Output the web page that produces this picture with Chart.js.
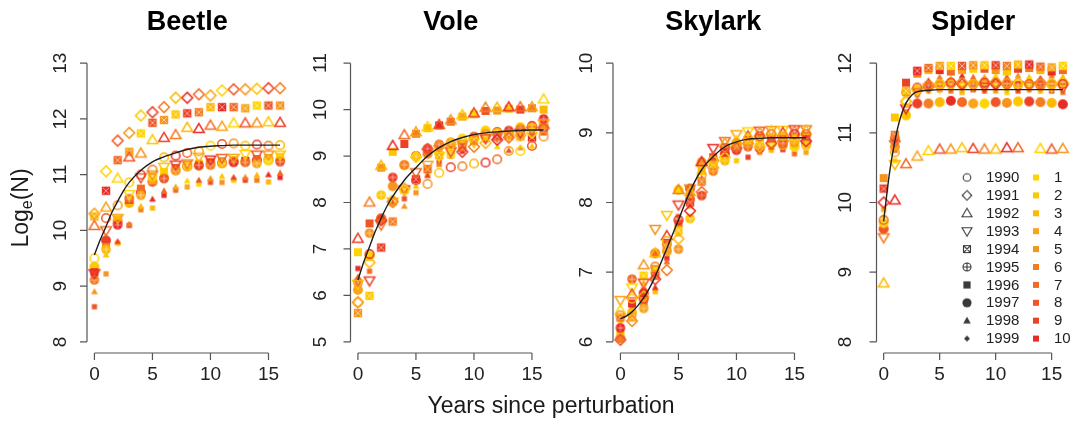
<!DOCTYPE html>
<html><head><meta charset="utf-8">
<script src="https://cdn.jsdelivr.net/npm/chart.js@4.4.1/dist/chart.umd.min.js"></script>
<style>
html,body{margin:0;padding:0;background:#fff;width:1076px;height:425px;overflow:hidden}
#wrap{position:relative;width:1076px;height:425px}
#wrap canvas{position:absolute;left:0;top:0}
</style></head><body><div id="wrap"></div>
<script>
// ---------- DATA ----------
const steps = [0,1,2,3,4,5,6,7,8,9,10,11,12,13,14,15,16];
const yearLabels = ['1990','1991','1992','1993','1994','1995','1996','1997','1998','1999'];
const colourLabels = ['1','2','3','4','5','6','7','8','9','10'];
const panelTitles = ['Beetle','Vole','Skylark','Spider'];
const xTicks = [0,5,10,15];
const beetleTicks = [8,9,10,11,12,13];
const voleTicks = [5,6,7,8,9,10,11];
const skylarkTicks = [6,7,8,9,10];
const spiderTicks = [8,9,10,11,12];

const beetleSeries = [
 [9.50,10.22,10.45,10.86,11.00,11.09,11.31,11.34,11.39,11.42,11.52,11.55,11.56,11.52,11.54,11.52,11.53],
 [10.30,11.06,11.61,11.75,12.06,12.12,12.21,12.38,12.38,12.44,12.42,12.51,12.53,12.53,12.54,12.55,12.55],
 [10.08,10.41,10.93,11.31,11.38,11.62,11.66,11.71,11.84,11.82,11.88,11.86,11.92,11.92,11.92,11.94,11.93],
 [9.23,10.00,10.22,10.65,10.95,11.00,11.14,11.18,11.20,11.32,11.27,11.30,11.30,11.37,11.36,11.36,11.36],
 [10.25,10.71,11.26,11.41,11.74,11.93,11.98,12.08,12.10,12.12,12.21,12.21,12.21,12.19,12.24,12.24,12.24],
 [9.11,9.66,10.10,10.57,10.63,10.96,10.93,11.07,11.15,11.17,11.17,11.20,11.22,11.22,11.20,11.25,11.23],
 [9.25,9.70,10.20,10.55,10.75,10.90,11.05,11.12,11.18,11.20,11.22,11.24,11.26,11.25,11.28,11.30,11.32],
 [9.35,9.82,10.16,10.49,10.68,10.87,10.94,11.09,11.15,11.16,11.21,11.21,11.24,11.24,11.26,11.27,11.26],
 [8.90,9.56,9.80,10.11,10.43,10.56,10.71,10.78,10.89,10.90,10.93,10.97,10.95,10.95,10.99,11.00,11.03],
 [8.63,9.22,9.77,10.09,10.37,10.40,10.63,10.72,10.78,10.83,10.86,10.86,10.90,10.90,10.90,10.87,10.95]
];
const voleSeries = [
 [5.85,6.89,7.66,8.00,8.27,8.48,8.40,8.64,8.76,8.78,8.84,8.86,8.93,9.11,9.11,9.22,9.42],
 [5.85,6.71,7.62,8.02,8.30,8.98,9.15,9.22,9.25,9.09,9.20,9.28,9.35,9.40,9.45,9.50,9.60],
 [7.22,8.00,8.79,9.22,9.45,9.51,9.62,9.67,9.77,9.88,9.92,10.04,10.04,10.05,10.05,10.05,10.22],
 [6.25,6.32,7.52,8.02,8.28,8.65,8.81,9.00,9.10,9.25,9.30,9.38,9.42,9.45,9.50,9.55,9.70],
 [5.62,5.99,7.03,7.59,8.28,8.50,8.72,9.02,9.05,9.18,9.35,9.42,9.42,9.45,9.42,9.40,9.55],
 [6.28,7.34,8.16,8.54,8.81,8.99,9.16,9.25,9.30,9.38,9.42,9.48,9.50,9.55,9.58,9.62,9.80],
 [6.93,7.55,8.75,9.09,9.26,9.48,9.60,9.66,9.74,9.85,9.90,9.97,9.98,10.02,10.00,10.03,10.00],
 [6.12,6.85,7.65,8.35,8.80,9.00,9.05,9.20,9.25,9.30,9.40,9.55,9.52,9.50,9.62,9.65,9.65],
 [6.40,6.80,7.60,8.00,7.92,8.35,8.58,8.82,9.00,9.10,9.30,9.35,9.20,9.12,9.18,9.21,9.50],
 [6.58,6.52,7.65,8.10,8.08,8.21,8.60,8.87,9.00,9.20,9.30,9.40,9.50,9.55,9.55,9.55,9.60]
];
const skylarkSeries = [
 [6.38,6.62,6.62,7.08,7.45,7.75,8.05,8.40,8.60,8.78,8.85,8.92,8.95,8.98,8.96,8.98,8.98],
 [6.03,6.30,6.65,6.90,7.03,7.48,7.88,8.15,8.50,8.65,8.78,8.85,8.80,8.85,8.88,8.90,8.88],
 [6.45,6.68,7.10,7.27,7.52,8.18,8.15,8.58,8.65,8.85,8.88,8.95,9.00,9.02,9.00,9.02,9.03],
 [6.60,6.78,6.85,7.62,7.82,7.97,8.20,8.50,8.78,8.88,8.98,9.02,9.03,9.04,9.04,9.05,9.05],
 [6.35,6.35,6.95,6.95,7.35,7.60,8.00,8.30,8.55,8.72,8.80,8.88,8.90,8.92,8.95,8.94,8.95],
 [6.20,6.90,6.48,7.00,7.40,7.33,7.77,8.10,8.45,8.60,8.75,8.80,8.82,8.84,8.85,8.86,8.82],
 [6.15,6.55,6.58,7.05,7.40,7.70,8.08,8.45,8.65,8.75,8.85,8.90,8.93,8.90,8.88,8.90,8.92],
 [6.05,6.42,6.70,7.27,7.30,8.18,8.20,8.58,8.58,8.70,8.80,8.85,8.78,8.85,8.82,8.80,8.85],
 [6.10,6.50,6.85,6.78,7.15,7.55,8.10,8.35,8.62,8.80,8.90,8.82,8.88,8.80,8.82,8.85,8.80],
 [6.30,6.40,6.75,6.72,7.20,7.80,7.95,8.28,8.52,8.68,8.60,8.65,8.72,8.75,8.76,8.70,8.72]
];
const spiderSeries = [
 [9.75,10.72,11.45,11.65,11.68,11.70,11.72,11.72,11.70,11.72,11.72,11.72,11.70,11.70,11.71,11.71,11.70],
 [10.00,10.88,11.45,11.62,11.66,11.68,11.70,11.70,11.70,11.72,11.70,11.70,11.72,11.70,11.72,11.70,11.72],
 [8.84,10.03,10.55,10.66,10.74,10.76,10.76,10.78,10.77,10.76,10.76,10.78,10.78,null,10.77,10.76,10.77],
 [9.50,10.55,11.35,11.58,11.65,11.65,11.68,11.68,11.68,11.66,11.68,11.66,11.68,11.67,11.66,11.66,11.65],
 [10.20,10.97,11.60,11.89,11.93,11.96,11.96,11.96,11.97,11.97,11.97,11.96,11.98,11.98,11.95,11.94,11.96],
 [9.70,10.92,11.58,11.62,11.68,11.70,11.72,11.68,11.70,11.70,11.72,11.70,11.68,11.70,11.68,11.70,11.72],
 [10.35,11.22,11.72,11.85,11.90,11.90,11.88,11.90,11.92,11.92,11.90,11.88,11.92,11.93,11.90,11.88,11.90],
 [9.62,10.80,11.25,11.42,11.42,11.44,11.46,11.44,11.42,11.42,11.44,11.43,11.45,11.45,11.44,11.43,11.41],
 [9.80,10.75,11.40,11.60,11.75,11.80,11.78,11.82,11.80,11.80,11.82,11.80,11.82,11.80,11.78,11.82,11.80],
 [9.90,10.60,11.30,11.55,11.60,11.62,11.60,11.58,11.62,11.60,11.60,11.58,11.60,11.62,11.60,11.60,11.58]
];

const fitX = [0,0.5,1,1.5,2,2.5,3,4,5,6,7,8,9,10,11,12,13,14,15,16];
const beetleFit  = [9.56,9.83,10.07,10.32,10.52,10.71,10.86,11.08,11.23,11.32,11.39,11.45,11.49,11.51,11.52,11.53,11.53,11.53,11.53,11.53];
const voleFit    = [6.33,6.72,7.05,7.38,7.66,7.92,8.13,8.48,8.75,9.00,9.18,9.31,9.40,9.46,9.50,9.52,9.54,9.55,9.56,9.56];
const skylarkFit = [6.33,6.37,6.43,6.52,6.63,6.77,6.94,7.34,7.75,8.16,8.47,8.66,8.80,8.87,8.91,8.92,8.93,8.93,8.93,8.93];
const spiderFit  = [9.73,10.40,10.88,11.22,11.43,11.54,11.59,11.61,11.62,11.62,11.62,11.62,11.62,11.62,11.62,11.62,11.62,11.62,11.62,11.62];

// ---------- STYLE ----------
const palette = ['#FFD400','#FEC700','#FCB804','#F9A41A','#F7941E','#F47D21','#F26A24','#EF5627','#EC4027','#E92B26'];
const shapes = ['circle','diamond','tri','itri','sqx','cplus','fsq','fcirc','ftri','dot'];

function makeMarker(shape, color, lw){
  const c = document.createElement('canvas'); c.width = 18; c.height = 18;
  const g = c.getContext('2d'); const cx = 9, cy = 9;
  g.strokeStyle = color; g.fillStyle = color; g.lineWidth = lw;
  g.beginPath();
  switch(shape){
    case 'circle': g.arc(cx,cy,4.3,0,Math.PI*2); g.stroke(); break;
    case 'diamond': g.moveTo(cx,cy-5.4); g.lineTo(cx+5.4,cy); g.lineTo(cx,cy+5.4); g.lineTo(cx-5.4,cy); g.closePath(); g.stroke(); break;
    case 'tri': g.moveTo(cx,cy-5.4); g.lineTo(cx+5.3,cy+3.6); g.lineTo(cx-5.3,cy+3.6); g.closePath(); g.stroke(); break;
    case 'itri': g.moveTo(cx,cy+5.4); g.lineTo(cx+5.3,cy-3.6); g.lineTo(cx-5.3,cy-3.6); g.closePath(); g.stroke(); break;
    case 'sqx': g.rect(cx-4.2,cy-4.2,8.4,8.4); g.fill(); g.strokeStyle='rgba(255,255,255,0.55)'; g.lineWidth=1; g.beginPath(); g.moveTo(cx-3,cy-3); g.lineTo(cx+3,cy+3); g.moveTo(cx+3,cy-3); g.lineTo(cx-3,cy+3); g.stroke(); break;
    case 'cplus': g.arc(cx,cy,4.8,0,Math.PI*2); g.fill(); g.strokeStyle='rgba(255,255,255,0.5)'; g.lineWidth=1; g.beginPath(); g.moveTo(cx-3.5,cy); g.lineTo(cx+3.5,cy); g.moveTo(cx,cy-3.5); g.lineTo(cx,cy+3.5); g.stroke(); break;
    case 'fsq': g.rect(cx-4,cy-4,8,8); g.fill(); break;
    case 'fcirc': g.arc(cx,cy,5,0,Math.PI*2); g.fill(); break;
    case 'ftri': g.moveTo(cx,cy-3.6); g.lineTo(cx+3.4,cy+2.4); g.lineTo(cx-3.4,cy+2.4); g.closePath(); g.fill(); break;
    case 'dot': g.rect(cx-2.6,cy-2.6,5.2,5.2); g.fill(); break;
  }
  return c;
}
function makeLegendMarker(shape){
  const c = document.createElement('canvas'); c.width = 18; c.height = 18;
  const g = c.getContext('2d'); const cx = 9, cy = 9; const col = '#3a3a3a';
  g.strokeStyle = col; g.fillStyle = col; g.lineWidth = 1.1; g.beginPath();
  switch(shape){
    case 'circle': g.arc(cx,cy,3.8,0,Math.PI*2); g.stroke(); break;
    case 'diamond': g.moveTo(cx,cy-4.8); g.lineTo(cx+4.8,cy); g.lineTo(cx,cy+4.8); g.lineTo(cx-4.8,cy); g.closePath(); g.stroke(); break;
    case 'tri': g.moveTo(cx,cy-5); g.lineTo(cx+5,cy+3.5); g.lineTo(cx-5,cy+3.5); g.closePath(); g.stroke(); break;
    case 'itri': g.moveTo(cx,cy+5); g.lineTo(cx+5,cy-3.5); g.lineTo(cx-5,cy-3.5); g.closePath(); g.stroke(); break;
    case 'sqx': g.rect(cx-3.5,cy-3.5,7,7); g.moveTo(cx-3.5,cy-3.5); g.lineTo(cx+3.5,cy+3.5); g.moveTo(cx+3.5,cy-3.5); g.lineTo(cx-3.5,cy+3.5); g.stroke(); break;
    case 'cplus': g.arc(cx,cy,4,0,Math.PI*2); g.moveTo(cx-4,cy); g.lineTo(cx+4,cy); g.moveTo(cx,cy-4); g.lineTo(cx,cy+4); g.stroke(); break;
    case 'fsq': g.rect(cx-3.6,cy-3.6,7.2,7.2); g.fill(); break;
    case 'fcirc': g.arc(cx,cy,4.6,0,Math.PI*2); g.fill(); break;
    case 'ftri': g.moveTo(cx,cy-4); g.lineTo(cx+3.8,cy+2.8); g.lineTo(cx-3.8,cy+2.8); g.closePath(); g.fill(); break;
    case 'dot': g.moveTo(cx,cy-3); g.lineTo(cx+3,cy); g.lineTo(cx,cy+3); g.lineTo(cx-3,cy); g.closePath(); g.fill(); break;
  }
  return c;
}
const markers = shapes.map(s => palette.map(col => makeMarker(s, col, 1.5)));
const legendMarkers = shapes.map(s => makeLegendMarker(s));

const FONT = '"Liberation Sans", Arial, Helvetica, sans-serif';
const panels = [
  {title: panelTitles[0], series: beetleSeries,  fit: beetleFit,  ticks: beetleTicks,  min: 7.8,  max: 13.2,  left: 87,    labOff: 26},
  {title: panelTitles[1], series: voleSeries,    fit: voleFit,    ticks: voleTicks,    min: 4.76, max: 11.24, left: 350.5, labOff: 30},
  {title: panelTitles[2], series: skylarkSeries, fit: skylarkFit, ticks: skylarkTicks, min: 5.84, max: 10.16, left: 613,   labOff: 26},
  {title: panelTitles[3], series: spiderSeries,  fit: spiderFit,  ticks: spiderTicks,  min: 7.84, max: 12.16, left: 876.5, labOff: 31}
];
const PW = 200.5, PTOP = 52, PBOT = 353, W = 1076, H = 425;

function colourIndex(p, s, i){ return (s*3 + i*7 + p*2) % 10; }

function rAxesPlugin(p, idx){
  return {
    id: 'rAxes' + idx,
    afterDraw(chart){
      const ctx = chart.ctx, xs = chart.scales.x, ys = chart.scales.y, a = chart.chartArea;
      ctx.save();
      ctx.strokeStyle = '#555'; ctx.lineWidth = 1.2; ctx.fillStyle = '#222';
      // x axis (R style)
      ctx.beginPath();
      ctx.moveTo(xs.getPixelForValue(xTicks[0]), a.bottom);
      ctx.lineTo(xs.getPixelForValue(xTicks[xTicks.length-1]), a.bottom);
      xTicks.forEach(t => { const px = xs.getPixelForValue(t); ctx.moveTo(px, a.bottom); ctx.lineTo(px, a.bottom + 7); });
      ctx.stroke();
      ctx.font = '19px ' + FONT; ctx.textAlign = 'center'; ctx.textBaseline = 'middle';
      xTicks.forEach(t => ctx.fillText(String(t), xs.getPixelForValue(t), a.bottom + 22));
      // y axis
      ctx.beginPath();
      ctx.moveTo(a.left, ys.getPixelForValue(p.ticks[0]));
      ctx.lineTo(a.left, ys.getPixelForValue(p.ticks[p.ticks.length-1]));
      p.ticks.forEach(t => { const py = ys.getPixelForValue(t); ctx.moveTo(a.left, py); ctx.lineTo(a.left - 7, py); });
      ctx.stroke();
      p.ticks.forEach(t => {
        const py = ys.getPixelForValue(t);
        ctx.save(); ctx.translate(a.left - p.labOff, py); ctx.rotate(-Math.PI/2);
        ctx.fillText(String(t), 0, 0); ctx.restore();
      });
      // panel title
      ctx.font = 'bold 27px ' + FONT; ctx.fillStyle = '#000';
      ctx.fillText(p.title, (a.left + a.right)/2, 23);
      if (idx === 0){
        // shared axis titles
        ctx.font = '23px ' + FONT; ctx.fillStyle = '#1a1a1a';
        ctx.fillText('Years since perturbation', 551, 407);
        ctx.save(); ctx.translate(22, 208); ctx.rotate(-Math.PI/2);
        ctx.textAlign = 'left';
        const w1 = ctx.measureText('Log').width;
        ctx.font = '16px ' + FONT; const we = ctx.measureText('e').width;
        ctx.font = '23px ' + FONT; const w2 = ctx.measureText('(N)').width;
        const x0 = -(w1 + we + w2)/2;
        ctx.fillText('Log', x0, 0);
        ctx.font = '16px ' + FONT; ctx.fillText('e', x0 + w1, 6);
        ctx.font = '23px ' + FONT; ctx.fillText('(N)', x0 + w1 + we, 0);
        ctx.restore();
      }
      if (idx === 3){
        // legend
        const rowY0 = 177.5, dy = 17.9;
        ctx.font = '15px ' + FONT; ctx.fillStyle = '#222'; ctx.textAlign = 'left';
        for (let k = 0; k < 10; k++){
          const y = rowY0 + k*dy;
          const m = legendMarkers[k];
          ctx.drawImage(m, 967 - m.width/2, y - m.height/2);
          ctx.fillText(yearLabels[k], 986, y + 0.5);
          ctx.fillStyle = palette[k]; ctx.fillRect(1036 - 3, y - 3, 6, 6);
          ctx.fillStyle = '#222';
          ctx.fillText(colourLabels[k], 1054, y + 0.5);
        }
      }
      ctx.restore();
    }
  };
}

const wrap = document.getElementById('wrap');
panels.forEach((p, idx) => {
  const cv = document.createElement('canvas');
  cv.width = W; cv.height = H; cv.style.width = W + 'px'; cv.style.height = H + 'px';
  wrap.appendChild(cv);
  const datasets = p.series.map((vals, s) => {
    const pts = []; const styles = [];
    vals.forEach((v, i) => { if (v !== null){ pts.push({x: steps[i], y: v}); styles.push(markers[s][colourIndex(idx, s, i)]); } });
    return { label: yearLabels[s], data: pts, pointStyle: styles, pointRadius: 5, showLine: false, order: 2 };
  });
  datasets.push({
    label: 'fit', data: fitX.map((x, i) => ({x: x, y: p.fit[i]})),
    showLine: true, borderColor: '#1e1e1e', borderWidth: 1.4, pointRadius: 0,
    cubicInterpolationMode: 'monotone', fill: false, order: 1
  });
  new Chart(cv, {
    type: 'scatter',
    data: { datasets },
    plugins: [rAxesPlugin(p, idx)],
    options: {
      responsive: false, animation: false, devicePixelRatio: 1,
      layout: { padding: { left: p.left, right: W - p.left - PW, top: PTOP, bottom: H - PBOT } },
      plugins: { legend: { display: false }, tooltip: { enabled: false } },
      scales: {
        x: { type: 'linear', min: -0.64, max: 16.64, display: false },
        y: { type: 'linear', min: p.min, max: p.max, display: false }
      },
      elements: { point: { hoverRadius: 5 } }
    }
  });
});
</script>
</body></html>
